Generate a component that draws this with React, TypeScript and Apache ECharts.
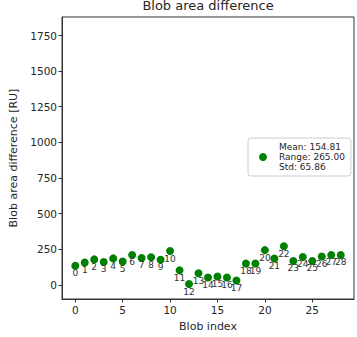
import React, { useEffect, useRef } from "react";
import * as echarts from "echarts";

const blobIndex = [0, 1, 2, 3, 4, 5, 6, 7, 8, 9, 10, 11, 12, 13, 14, 15, 16, 17, 18, 19, 20, 21, 22, 23, 24, 25, 26, 27, 28];
const areaDiff = [133, 156, 178, 160, 185, 163, 209, 188, 193, 176, 237, 101, 5, 81, 51, 58, 51, 30, 149, 149, 243, 184, 270, 167, 195, 167, 198, 209, 209];
const yTicks = [0, 250, 500, 750, 1000, 1250, 1500, 1750];
const xTicks = [0, 5, 10, 15, 20, 25];
const legendLabel = "Mean: 154.81\nRange: 265.00\nStd: 65.86";
const titleText = "Blob area difference";
const xName = "Blob index";
const yName = "Blob area difference [RU]";

const FONT = "DejaVu Sans";
const TXT = "#262626";
const AX = "#333";

export default function App() {
  const ref = useRef<HTMLDivElement>(null);
  useEffect(() => {
    document.body.style.margin = "0";
    if (!ref.current) return;
    const chart = echarts.init(ref.current, null, { renderer: "svg" });
    const data = blobIndex.map((i, k) => [i, areaDiff[k]]);
    chart.setOption({
      animation: false,
      textStyle: { fontFamily: FONT },
      graphic: [
        {
          type: "text",
          x: 208,
          y: 5,
          style: {
            text: titleText,
            font: `13px ${FONT}`,
            fill: TXT,
            textAlign: "center",
            textVerticalAlign: "middle",
          },
        },
      ],
      grid: {
        left: 62,
        right: 3,
        top: 17,
        bottom: 37,
        show: true,
        borderColor: AX,
        borderWidth: 1,
        backgroundColor: "transparent",
      },
      legend: {
        show: true,
        left: 248,
        top: 138,
        orient: "vertical",
        data: [{ name: legendLabel, icon: "circle" }],
        itemWidth: 8,
        itemHeight: 8,
        padding: [4, 6, 4, 11],
        backgroundColor: "#fff",
        borderColor: "#ccc",
        borderWidth: 1,
        borderRadius: 3,
        textStyle: { fontSize: 9, lineHeight: 10, color: TXT, fontFamily: FONT, padding: [0, 0, 0, 7] },
      },
      xAxis: {
        type: "value",
        min: -1.4,
        max: 29.4,
        name: xName,
        nameLocation: "middle",
        nameGap: 22,
        nameTextStyle: { fontSize: 11, color: TXT, fontFamily: FONT },
        axisLine: { show: true, onZero: false, lineStyle: { color: AX } },
        axisTick: { show: true, inside: false, length: 3.5, lineStyle: { color: AX }, customValues: xTicks },
        axisLabel: { show: true, fontSize: 10.5, color: TXT, margin: 5, customValues: xTicks, fontFamily: FONT, formatter: (v: number) => String(v) },
        splitLine: { show: false },
      },
      yAxis: {
        type: "value",
        min: -100,
        max: 1880,
        name: yName,
        nameLocation: "middle",
        nameGap: 42,
        nameTextStyle: { fontSize: 11, color: TXT, fontFamily: FONT },
        axisLine: { show: true, onZero: false, lineStyle: { color: AX } },
        axisTick: { show: true, inside: false, length: 3.5, lineStyle: { color: AX }, customValues: yTicks },
        axisLabel: { show: true, fontSize: 10.5, color: TXT, margin: 5, customValues: yTicks, fontFamily: FONT, formatter: (v: number) => String(v) },
        splitLine: { show: false },
      },
      series: [
        {
          type: "scatter",
          name: legendLabel,
          data,
          symbol: "circle",
          symbolSize: 8,
          itemStyle: { color: "#008000", opacity: 1 },
          label: {
            show: true,
            position: "bottom",
            distance: -1,
            formatter: (p: any) => String(p.value[0]),
            fontSize: 9,
            color: "#333",
            fontFamily: FONT,
          },
        },
      ],
    });
    return () => chart.dispose();
  }, []);
  return <div ref={ref} style={{ width: 357, height: 337 }} />;
}
